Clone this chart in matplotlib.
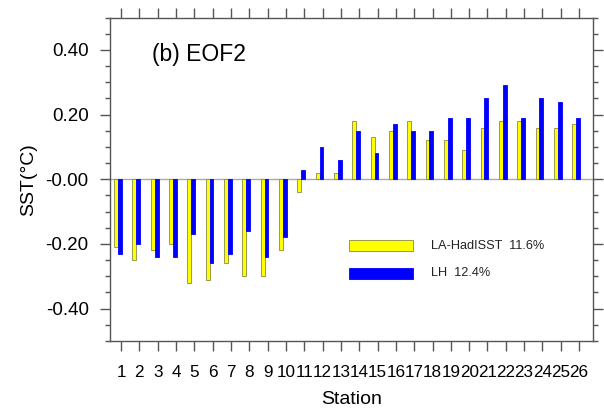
import numpy as np
import matplotlib
matplotlib.use("Agg")
import matplotlib.pyplot as plt
from matplotlib.patches import Rectangle
from matplotlib.ticker import MultipleLocator

plt.rcParams["font.family"] = ["Liberation Sans", "DejaVu Sans"]

# EOF2 loadings per station
stations = list(range(1, 27))
la_hadisst = [-0.21, -0.25, -0.22, -0.20, -0.32, -0.31, -0.26, -0.30, -0.30, -0.22,
              -0.04, 0.02, 0.02, 0.18, 0.13, 0.15, 0.18, 0.12, 0.12, 0.09,
              0.16, 0.18, 0.18, 0.16, 0.16, 0.17]
lh = [-0.23, -0.20, -0.24, -0.24, -0.17, -0.26, -0.23, -0.16, -0.24, -0.18,
      0.03, 0.10, 0.06, 0.15, 0.08, 0.17, 0.15, 0.15, 0.19, 0.19,
      0.25, 0.29, 0.19, 0.25, 0.24, 0.19]
series_labels = ["LA-HadISST  11.6%", "LH  12.4%"]
ytick_vals = [-0.4, -0.2, 0.0, 0.2, 0.4]
ytick_labels = ["-0.40", "-0.20", "-0.00", "0.20", "0.40"]

yellow = "#ffff00"
blue = "#0000ff"
frame = "#555555"

fig = plt.figure(figsize=(6.04, 4.12), dpi=100)
ax = fig.add_axes([0.1813, 0.1723, 0.8005, 0.7852])

x = np.array(stations)
w = 0.21
ax.bar(x - 0.27, la_hadisst, width=w, color=yellow, edgecolor="#8a8a40", linewidth=0.6, zorder=3)
ax.bar(x - 0.06, lh, width=w, color=blue, edgecolor=blue, linewidth=0.6, zorder=3)
ax.axhline(0, color="#aaaaaa", linewidth=1.0, zorder=2)

ax.set_xlim(0.37, 26.76)
ax.set_ylim(-0.5, 0.5)
ax.set_xticks(stations)
ax.set_xticklabels([str(s) for s in stations], fontsize=12.3)
ax.set_yticks(ytick_vals)
ax.set_yticklabels(ytick_labels, fontsize=13.5)
ax.yaxis.set_minor_locator(MultipleLocator(0.05))

ax.tick_params(axis="both", which="major", direction="out", length=7, width=1.0,
               color=frame, top=True, right=True, labeltop=False, labelright=False)
ax.tick_params(axis="x", pad=10)
ax.tick_params(axis="y", pad=8)
ax.tick_params(axis="y", which="minor", direction="out", length=3.5, width=1.0,
               color=frame, right=True)
for s in ax.spines.values():
    s.set_color(frame)
    s.set_linewidth(1.0)

ax.set_xlabel("Station", fontsize=14, labelpad=8)
ax.set_ylabel("SST(°C)", fontsize=14, labelpad=6)

ax.text(0.088, 0.885, "(b) EOF2", transform=ax.transAxes, fontsize=16.5,
        ha="left", va="center")

# legend drawn by hand
leg_colors = [(yellow, "#8a8a40"), (blue, blue)]
leg_y = [0.295, 0.21]
for (fc, ec), yy, lab in zip(leg_colors, leg_y, series_labels):
    ax.add_patch(Rectangle((0.495, yy - 0.017), 0.132, 0.034, transform=ax.transAxes,
                           facecolor=fc, edgecolor=ec, linewidth=0.6, zorder=4))
    ax.text(0.665, yy, lab, transform=ax.transAxes, fontsize=9.2,
            ha="left", va="center", color="#222222")

fig.savefig("out.png", dpi=100)
